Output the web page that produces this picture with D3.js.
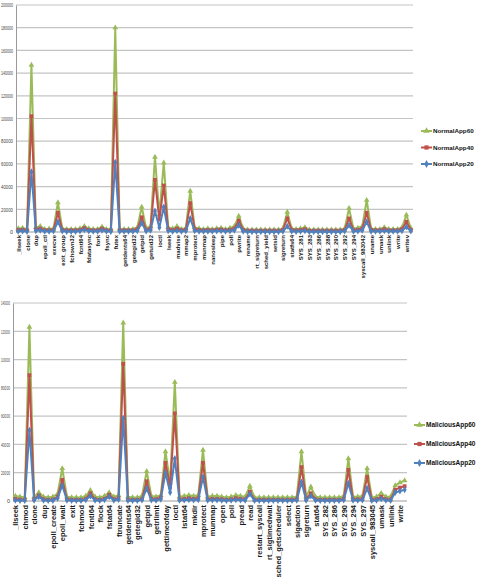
<!DOCTYPE html>
<html>
<head>
<meta charset="utf-8">
<script src="https://cdn.jsdelivr.net/npm/d3@7"></script>
<style>
  body { margin: 0; background: #fff; }
  svg { display: block; font-family: "Liberation Sans", Arial, sans-serif; }
</style>
</head>
<body>
<svg width="479" height="581"></svg>
<script>
// ---- data: normal apps (top chart) ----
const normalCategories = [
  "_llseek", "access", "clone", "close", "dup", "epoll_create", "epoll_ctl", "epoll_wait", "execve", "exit",
  "exit_group", "fchmod", "fchown32", "fchownat", "fcntl64", "fgetxattr", "fdatasync", "flock", "fork", "fstat64",
  "fsync", "ftruncate", "futex", "getcwd", "getdents64", "geteuid32", "getegid32", "getgid32", "getpid", "getppid",
  "getuid32", "gettid", "ioctl", "kill", "lseek", "lstat64", "madvise", "mkdir", "mmap2", "mremap",
  "mprotect", "msync", "munmap", "munlock", "nanosleep", "open", "pipe", "pread", "poll", "prctl",
  "pwrite", "read", "rename", "readlink", "rt_sigreturn", "rt_sigtimedwait", "sched_yield", "select", "setsid", "sigaction",
  "sigreturn", "socket", "statfs64", "stat64", "SYS_281", "SYS_282", "SYS_283", "SYS_285", "SYS_286", "SYS_287",
  "SYS_288", "SYS_289", "SYS_290", "SYS_291", "SYS_292", "SYS_293", "SYS_294", "SYS_297", "syscall_983042", "syscall_983045",
  "uname", "ugetrlimit", "umask", "umount", "unlink", "vfork", "write", "wait4", "writev", "yield"
];
const normal60 = [
  3000, 3500, 2500, 147000, 4000, 5000, 2500, 2800, 3000, 26000,
  3000, 2500, 2500, 2500, 3000, 5000, 3000, 2500, 2500, 4500,
  2500, 2500, 180000, 2500, 2500, 2500, 2500, 4000, 22000, 3500,
  5000, 66000, 15000, 61000, 4000, 3000, 5000, 2500, 3500, 36000,
  4000, 3000, 2500, 3000, 2500, 3000, 3500, 2500, 3500, 5000,
  14000, 3000, 2000, 2000, 2000, 2000, 2000, 2000, 2000, 2000,
  3000, 17500, 3000, 2500, 3000, 4000, 2000, 2000, 2000, 2000,
  2000, 2000, 2000, 2000, 3000, 21000, 3000, 3500, 5000, 28000,
  3000, 2500, 2500, 4000, 2500, 2500, 2500, 4000, 15000, 3500
];
const normal40 = [
  1800, 2000, 1500, 102000, 2500, 3000, 1500, 1600, 1800, 17000,
  1800, 1500, 1500, 1500, 1800, 3500, 1800, 1500, 1500, 3000,
  1500, 1500, 122000, 1500, 1500, 1500, 1500, 2500, 13000, 2000,
  3000, 46000, 11000, 41000, 2500, 1800, 3000, 1500, 2000, 25500,
  2500, 1800, 1500, 1800, 1500, 2000, 2200, 1500, 2000, 3000,
  10000, 1800, 1200, 1200, 1200, 1200, 1200, 1200, 1200, 1200,
  1800, 12000, 1800, 1500, 1800, 2500, 1200, 1200, 1200, 1200,
  1200, 1200, 1200, 1200, 1800, 12000, 1800, 2000, 3000, 17000,
  1800, 1500, 1500, 2500, 1500, 1500, 1500, 2500, 9000, 2000
];
const normal20 = [
  700, 800, 500, 53000, 1000, 1500, 600, 700, 800, 9000,
  800, 500, 500, 500, 800, 2000, 800, 600, 600, 1500,
  600, 500, 61500, 600, 600, 600, 600, 1000, 8000, 900,
  1500, 18500, 4000, 22000, 1000, 700, 1000, 600, 800, 12000,
  1000, 700, 600, 700, 600, 800, 1000, 600, 800, 1500,
  6000, 700, 300, 300, 300, 300, 300, 300, 300, 300,
  600, 5000, 600, 500, 700, 1000, 300, 300, 300, 300,
  300, 300, 300, 300, 800, 6000, 700, 800, 1500, 9000,
  700, 600, 600, 1000, 600, 600, 600, 1000, 4500, 900
];
const normalTicks = [0, 20000, 40000, 60000, 80000, 100000, 120000, 140000, 160000, 180000, 200000];
const normalNames = ["NormalApp60", "NormalApp40", "NormalApp20"];

// ---- data: malicious apps (bottom chart) ----
const maliciousCategories = [
  "_llseek", "brk", "chmod", "close", "clone", "connect", "dup", "dup2", "epoll_create", "epoll_ctl",
  "epoll_wait", "execve", "exit", "exit_group", "fchmod", "fchown32", "fcntl64", "fdatasync", "flock", "fork",
  "fstat64", "fsync", "ftruncate", "futex", "getdents64", "geteuid32", "getegid32", "getgid32", "getpid", "getppid",
  "getrlimit", "getsockopt", "gettimeofday", "getuid32", "ioctl", "lseek", "lstat64", "madvise", "mkdir", "mmap2",
  "mprotect", "mremap", "munmap", "nanosleep", "open", "pipe", "poll", "prctl", "pread", "pwrite",
  "read", "readlink", "restart_syscall", "rename", "rt_sigtimedwait", "rt_sigreturn", "sched_getscheduler", "sched_yield", "select", "sendto",
  "sigaction", "sigprocmask", "sigreturn", "socket", "stat64", "SYS_281", "SYS_282", "SYS_283", "SYS_286", "SYS_288",
  "SYS_290", "SYS_292", "SYS_294", "SYS_295", "SYS_297", "syscall_983042", "syscall_983045", "ugetrlimit", "umask", "uname",
  "unlink", "wait4", "write", "writev"
];
const malicious60 = [
  3500, 3000, 2500, 123000, 3000, 6000, 3000, 2500, 3000, 5000,
  23000, 3000, 2500, 2500, 2500, 3500, 7500, 3000, 2500, 3500,
  6000, 3000, 4000, 126000, 3000, 2500, 2500, 3500, 21000, 3500,
  3000, 4000, 35000, 13000, 84000, 3000, 3500, 4000, 3500, 4000,
  36000, 3000, 3500, 3500, 3000, 2500, 3000, 4000, 3500, 3000,
  10500, 2500, 2500, 2500, 2500, 2500, 2500, 2500, 2500, 2500,
  3000, 35000, 3000, 10000, 3000, 2500, 2500, 2500, 2500, 2500,
  3500, 30000, 3000, 3000, 3500, 23000, 2500, 3000, 5500, 3000,
  3000, 11000, 13000, 14500
];
const malicious40 = [
  1500, 1000, 800, 89000, 1200, 4000, 1200, 800, 1000, 3000,
  15000, 1200, 800, 800, 800, 1500, 5500, 1200, 800, 1500,
  4500, 1200, 2000, 97000, 1000, 800, 800, 1500, 14000, 1500,
  1200, 2500, 27000, 10000, 62000, 1200, 1500, 2000, 1500, 2000,
  27000, 1200, 1500, 1500, 1200, 800, 1200, 2000, 1500, 1200,
  6500, 800, 800, 800, 800, 800, 800, 800, 800, 800,
  1200, 24000, 1200, 5500, 1200, 800, 800, 800, 800, 800,
  1500, 22000, 1200, 1200, 1500, 17000, 800, 1200, 3000, 1200,
  1000, 8000, 9500, 10500
];
const malicious20 = [
  600, 400, 300, 50000, 500, 3000, 500, 300, 400, 2000,
  11000, 500, 300, 300, 300, 800, 3500, 500, 300, 800,
  3000, 500, 1000, 58500, 400, 300, 300, 700, 9000, 700,
  500, 1200, 20000, 6000, 30000, 500, 700, 900, 700, 900,
  17000, 500, 700, 700, 500, 300, 500, 900, 700, 500,
  5000, 300, 300, 300, 300, 300, 300, 300, 300, 300,
  500, 13500, 500, 3500, 500, 300, 300, 300, 300, 300,
  700, 12500, 500, 500, 700, 9000, 300, 500, 1500, 500,
  400, 6000, 7000, 8000
];
const maliciousTicks = [0, 20000, 40000, 60000, 80000, 100000, 120000, 140000];
const maliciousNames = ["MaliciousApp60", "MaliciousApp40", "MaliciousApp20"];

const colors = ["#9bbb59", "#c0504d", "#4f81bd"];
const symbols = [d3.symbolTriangle, d3.symbolSquare, d3.symbolDiamond];

const svg = d3.select("svg");

// shrink a text's font until its natural width fits
function fitText(sel, maxWidth) {
  sel.each(function () {
    const t = d3.select(this);
    let fs = +t.attr("font-size");
    while (this.getComputedTextLength() > maxWidth && fs > 3) {
      fs -= 0.25;
      t.attr("font-size", fs);
    }
  });
}

function drawChart(opt) {
  const g = svg.append("g");

  const x = d3.scalePoint()
    .domain(opt.categories)
    .range([opt.left, opt.right])
    .padding(0.5);
  const y = d3.scaleLinear()
    .domain([0, d3.max(opt.ticks)])
    .range([opt.bottom, opt.top]);

  // horizontal gridlines
  g.selectAll("line.grid")
    .data(opt.ticks.filter(t => t > 0))
    .join("line")
    .attr("class", "grid")
    .attr("x1", opt.left)
    .attr("x2", opt.right)
    .attr("y1", d => y(d))
    .attr("y2", d => y(d))
    .attr("stroke", "#c4c4c4")
    .attr("stroke-width", 1.2);

  // y axis
  const yAxis = g.append("g")
    .attr("transform", `translate(${opt.left},0)`)
    .call(d3.axisLeft(y).tickValues(opt.ticks).tickSize(0).tickPadding(3).tickFormat(d3.format("d")));
  yAxis.select(".domain").attr("stroke", "#9a9a9a");
  // squeeze long tick labels so they fit in the narrow left margin
  const room = opt.left - 4;
  yAxis.selectAll("text")
    .attr("font-size", 5.5)
    .attr("fill", "#444")
    .each(function () {
      if (this.getComputedTextLength() > room) {
        d3.select(this)
          .attr("textLength", room)
          .attr("lengthAdjust", "spacingAndGlyphs");
      }
    });

  // x axis, every other category labelled
  const xAxis = g.append("g")
    .attr("transform", `translate(0,${opt.bottom})`)
    .call(d3.axisBottom(x)
      .tickValues(opt.categories.filter((d, i) => i % 2 === 0))
      .tickSize(0));
  xAxis.select(".domain")
    .attr("stroke", "#9a9a9a")
    .attr("d", `M${opt.left},0H${opt.right}`);
  xAxis.selectAll("text")
    .attr("transform", "rotate(-90)")
    .attr("text-anchor", "end")
    .attr("x", -opt.labelGap)
    .attr("y", 0)
    .attr("dy", "0.35em")
    .attr("font-size", opt.labelSize)
    .attr("font-weight", "bold")
    .attr("fill", "#1a1a1a");

  // series: lines + markers
  const line = d3.line()
    .x((d, i) => x(opt.categories[i]))
    .y(d => y(d));

  opt.series.forEach((values, s) => {
    g.append("path")
      .datum(values)
      .attr("fill", "none")
      .attr("stroke", colors[s])
      .attr("stroke-width", 2)
      .attr("stroke-linejoin", "round")
      .attr("d", line);

    g.append("g")
      .selectAll("path")
      .data(values)
      .join("path")
      .attr("transform", (d, i) => `translate(${x(opt.categories[i])},${y(d)})`)
      .attr("d", d3.symbol().type(symbols[s]).size(14))
      .attr("fill", colors[s]);
  });

  // legend
  const legend = g.append("g");
  opt.names.forEach((name, s) => {
    const ly = opt.legendY + s * opt.legendStep;
    legend.append("line")
      .attr("x1", opt.legendX)
      .attr("x2", opt.legendX + 11)
      .attr("y1", ly)
      .attr("y2", ly)
      .attr("stroke", colors[s])
      .attr("stroke-width", 2);
    legend.append("path")
      .attr("transform", `translate(${opt.legendX + 5.5},${ly})`)
      .attr("d", d3.symbol().type(symbols[s]).size(18))
      .attr("fill", colors[s]);
    legend.append("text")
      .attr("x", opt.legendX + 12)
      .attr("y", ly)
      .attr("dy", "0.35em")
      .attr("font-size", 7.5)
      .attr("font-weight", "bold")
      .attr("fill", "#111")
      .text(name)
      .call(fitText, opt.legendTextWidth);
  });
}

drawChart({
  categories: normalCategories,
  series: [normal60, normal40, normal20],
  names: normalNames,
  ticks: normalTicks,
  left: 16, right: 413, top: 5, bottom: 232,
  labelGap: 3, labelSize: 6,
  legendX: 421, legendY: 131, legendStep: 16.5, legendTextWidth: 42
});

drawChart({
  categories: maliciousCategories,
  series: [malicious60, malicious40, malicious20],
  names: maliciousNames,
  ticks: maliciousTicks,
  left: 13, right: 407, top: 303, bottom: 501,
  labelGap: 4, labelSize: 7.5,
  legendX: 414, legendY: 425, legendStep: 19, legendTextWidth: 51
});
</script>
</body>
</html>
